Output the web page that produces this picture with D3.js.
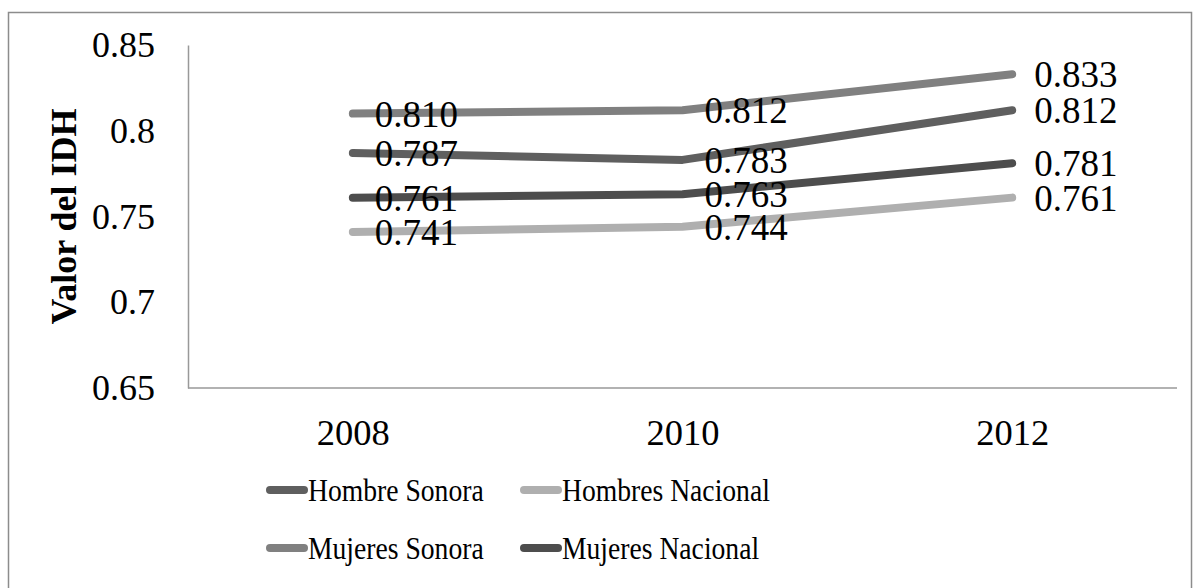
<!DOCTYPE html>
<html>
<head>
<meta charset="utf-8">
<script src="https://cdn.jsdelivr.net/npm/d3@7"></script>
<style>
  body { margin: 0; background: #fff; }
  text { font-family: "Liberation Serif", "Times New Roman", serif; fill: #000; }
</style>
</head>
<body>
<svg></svg>
<script>
const width = 1193;
const height = 588;

const years = ['2008', '2010', '2012'];
const seriesNames = ['Hombre Sonora', 'Hombres Nacional', 'Mujeres Sonora', 'Mujeres Nacional'];
const hombreSonora = [0.787, 0.783, 0.812];
const hombresNacional = [0.741, 0.744, 0.761];
const mujeresSonora = [0.810, 0.812, 0.833];
const mujeresNacional = [0.761, 0.763, 0.781];
const yTicks = [0.65, 0.7, 0.75, 0.8, 0.85];
const colors = ['#5f5f5f', '#afafaf', '#808080', '#4d4d4d'];

const series = [hombreSonora, hombresNacional, mujeresSonora, mujeresNacional]
  .map((values, i) => ({ name: seriesNames[i], values, color: colors[i] }));

const margin = { top: 45, right: 16, bottom: 200, left: 188 };

const svg = d3.select('svg')
  .attr('width', width).attr('height', height);

// outer chart border
svg.append('rect')
  .attr('x', 8.5).attr('y', 12.5)
  .attr('width', width - 10).attr('height', height)
  .attr('fill', 'none')
  .attr('stroke', '#8c8c8c')
  .attr('stroke-width', 1.5);

const x = d3.scalePoint()
  .domain(years)
  .range([margin.left, width - margin.right])
  .padding(0.5);

const y = d3.scaleLinear()
  .domain([0.65, 0.85])
  .range([height - margin.bottom, margin.top]);

// y axis
const yAxis = svg.append('g')
  .attr('transform', `translate(${margin.left},0)`)
  .call(d3.axisLeft(y).tickValues(yTicks).tickSize(0).tickPadding(33)
    .tickFormat(d => String(+d.toFixed(2))));
yAxis.select('.domain').attr('stroke', '#999').attr('stroke-width', 1.5);
yAxis.selectAll('text').style('font-size', '36px')
  .style('font-family', '"Liberation Serif", serif').attr('fill', '#000');

// x axis
const xAxis = svg.append('g')
  .attr('transform', `translate(0,${height - margin.bottom})`)
  .call(d3.axisBottom(x).tickSize(0).tickPadding(31));
xAxis.select('.domain').attr('stroke', '#999').attr('stroke-width', 1.5)
  .attr('d', `M${margin.left},0H${width - margin.right}`);
xAxis.selectAll('text').style('font-size', '36.5px')
  .style('font-family', '"Liberation Serif", serif').attr('fill', '#000');

// y title
svg.append('text')
  .attr('transform', `translate(76,${(margin.top + height - margin.bottom) / 2}) rotate(-90)`)
  .attr('text-anchor', 'middle')
  .style('font-size', '36px')
  .style('font-weight', 'bold')
  .text('Valor del IDH');

const line = d3.line()
  .x((d, i) => x(years[i]))
  .y(d => y(d));

svg.append('g').selectAll('path')
  .data(series)
  .join('path')
  .attr('d', d => line(d.values))
  .attr('fill', 'none')
  .attr('stroke', d => d.color)
  .attr('stroke-width', 8)
  .attr('stroke-linecap', 'round')
  .attr('stroke-linejoin', 'round');

// data labels, right of each point
const labels = svg.append('g');
series.forEach(s => {
  labels.selectAll(null)
    .data(s.values)
    .join('text')
    .attr('x', (d, i) => x(years[i]) + 22)
    .attr('y', d => y(d))
    .attr('dy', '0.35em')
    .style('font-size', '37px')
    .text(d => d.toFixed(3));
});

// legend
const legend = svg.append('g');
const legendPos = [[266, 490], [520, 490], [266, 548], [520, 548]];
series.forEach((s, i) => {
  const g = legend.append('g')
    .attr('transform', `translate(${legendPos[i][0]},${legendPos[i][1]})`);
  g.append('line')
    .attr('x1', 4).attr('x2', 38)
    .attr('stroke', s.color)
    .attr('stroke-width', 8)
    .attr('stroke-linecap', 'round');
  g.append('text')
    .attr('transform', 'translate(42,0) scale(0.85,1)')
    .attr('dy', '0.35em')
    .style('font-size', '32.5px')
    .text(s.name);
});
</script>
</body>
</html>
